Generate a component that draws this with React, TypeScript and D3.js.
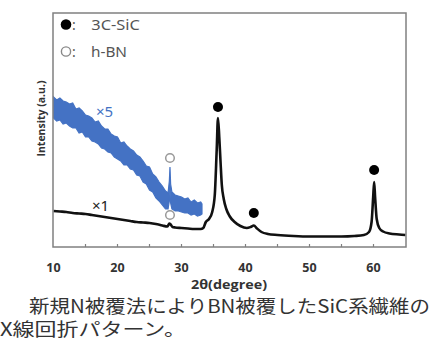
import React from 'react';
import * as d3 from 'd3';

// x1 pattern (black)
const blackTheta = [10, 11, 12, 13, 14, 15, 16, 17, 18, 19, 20, 21, 22, 23, 24, 25, 26, 27, 27.8, 28.1, 28.3, 28.6, 29, 30, 31, 32, 33, 33.4, 33.8, 34.3, 34.8, 35.2, 35.5, 35.7, 35.9, 36.1, 36.3, 36.6, 37, 37.5, 38.3, 39.2, 40.2, 40.8, 41.3, 41.8, 42.5, 43.5, 45, 47.5, 50, 52.5, 55, 57, 58.5, 59.3, 59.7, 59.95, 60.1, 60.25, 60.5, 60.9, 61.5, 62.5, 64, 65];
const blackIntensity = [36, 35.5, 35, 34, 33.5, 33, 32, 31, 30, 29, 28, 27, 26, 25, 24.5, 24, 23, 21.5, 20.5, 23.5, 22.5, 20, 19.5, 19, 18.5, 18, 18, 19, 25, 28, 35, 52, 97, 129, 110, 85, 62, 48, 38, 31, 25, 21, 19, 20, 21.5, 18.5, 15, 13, 12, 11, 10.5, 10.5, 10.5, 11, 12, 15, 25, 50, 65, 50, 28, 19, 15.5, 13.5, 12.5, 12];

// x5 pattern (blue, noisy band: upper / lower edges)
const blueTheta = [10, 10.5, 11, 11.5, 12, 12.5, 13, 13.5, 14, 14.5, 15, 15.5, 16, 16.5, 17, 17.5, 18, 18.5, 19, 19.5, 20, 20.5, 21, 21.5, 22, 22.5, 23, 23.5, 24, 24.5, 25, 25.5, 26, 26.5, 27, 27.5, 27.9, 28.1, 28.2, 28.3, 28.5, 29, 29.5, 30, 30.5, 31, 31.5, 32, 32.5, 33, 33.2];
const blueUpper = [150, 147, 149, 146, 145, 143, 144, 138, 139, 136, 132, 131, 129, 125, 126, 121, 118, 118, 113, 111, 110, 104, 105, 101, 98, 96, 92, 90, 86, 81, 80, 73, 70, 65, 61, 56, 54, 66, 80, 63, 55, 52, 51, 50, 48, 49, 45, 47, 44, 45, 43];
const blueLower = [129, 126, 127, 123, 124, 121, 119, 119, 114, 115, 110, 110, 106, 105, 103, 99, 98, 95, 94, 90, 88, 86, 82, 82, 78, 77, 72, 71, 65, 63, 57, 55, 49, 46, 42, 38, 38, 46, 58, 44, 38, 36, 36, 35, 34, 34, 32, 33, 31, 32, 33];

// peak markers
const sicTheta = [35.7, 41.3, 60.1];
const sicLevel = [140, 34, 77];
const bnTheta = [28.2, 28.2];
const bnLevel = [89, 32];

const xTicks = [10, 20, 30, 40, 50, 60];
const xMinorTicks = [15, 20, 25, 30, 35, 40, 45, 50, 55, 60];

const W = 437;
const H = 344;
const plot = { left: 53, top: 13, right: 406, bottom: 247 };

export default function App() {
  const x = d3.scaleLinear().domain([10, 65]).range([53.5, 405.5]);
  const y = d3.scaleLinear().domain([0, 234]).range([plot.bottom, plot.top]);

  const black = blackTheta.map((t, i) => [t, blackIntensity[i]] as [number, number]);
  const blue = blueTheta.map((t, i) => ({ t, hi: blueUpper[i], lo: blueLower[i] }));

  const line = d3
    .line<[number, number]>()
    .x((d) => x(d[0]))
    .y((d) => y(d[1]))
    .curve(d3.curveMonotoneX);

  const band = d3
    .area<{ t: number; hi: number; lo: number }>()
    .x((d) => x(d.t))
    .y0((d) => y(d.lo))
    .y1((d) => y(d.hi));

  const tickFont = '"Open Sans", "DejaVu Sans", sans-serif';
  const legendFont = '"Noto Sans", "Open Sans", sans-serif';
  const jpFont = '"Noto Sans CJK JP", sans-serif';

  return (
    <svg width={W} height={H} style={{ position: 'fixed', left: 0, top: 0, background: '#fff' }}>
      <rect x={0} y={0} width={W} height={H} fill="#fff" />

      {/* blue x5 band */}
      <path d={band(blue) || ''} fill="#4472c4" stroke="#4472c4" strokeWidth={1.2} />

      {/* black x1 line */}
      <path d={line(black) || ''} fill="none" stroke="#111" strokeWidth={2.6} strokeLinejoin="round" />

      {/* frame */}
      <rect
        x={plot.left}
        y={plot.top}
        width={plot.right - plot.left}
        height={plot.bottom - plot.top}
        fill="none"
        stroke="#808080"
        strokeWidth={1.5}
      />

      {/* inner ticks */}
      {xMinorTicks.map((t) => (
        <line key={t} x1={x(t)} x2={x(t)} y1={plot.bottom} y2={plot.bottom - 3} stroke="#808080" strokeWidth={1.2} />
      ))}

      {/* tick labels */}
      {xTicks.map((t) => (
        <text key={t} x={x(t)} y={272} textAnchor="middle" fontFamily={tickFont} fontWeight={700} fontSize={12.5} fill="#333">
          {t}
        </text>
      ))}

      <text x={191} y={289} fontFamily={tickFont} fontWeight={700} fontSize={11.5} fill="#333" textLength={76} lengthAdjust="spacingAndGlyphs">
        2θ(degree)
      </text>

      <text
        transform="translate(45,118.5) rotate(-90)"
        textAnchor="middle"
        fontFamily={tickFont}
        fontWeight={700}
        fontSize={10.5}
        fill="#333"
      >
        Intensity (a.u.)
      </text>

      {/* peak markers */}
      {sicTheta.map((t, i) => (
        <circle key={'s' + i} cx={x(t)} cy={y(sicLevel[i])} r={5} fill="#000" />
      ))}
      {bnTheta.map((t, i) => (
        <circle key={'b' + i} cx={x(t)} cy={y(bnLevel[i])} r={4.3} fill="#fff" stroke="#999" strokeWidth={1.5} />
      ))}

      <text x={96} y={117} fontFamily={legendFont} fontSize={15} fill="#4472c4">
        ×5
      </text>
      <text x={92} y={211} fontFamily={legendFont} fontSize={15} fill="#222">
        ×1
      </text>

      {/* legend */}
      <circle cx={66} cy={24.5} r={5.3} fill="#000" />
      <text y={30} fontFamily={legendFont} fontSize={14} fill="#555">
        <tspan x={72}>:</tspan>
        <tspan x={87} textLength={53} lengthAdjust="spacingAndGlyphs"> 3C-SiC</tspan>
      </text>
      <circle cx={66} cy={51.5} r={4.6} fill="#fff" stroke="#888" strokeWidth={1.4} />
      <text y={57} fontFamily={legendFont} fontSize={14} fill="#555">
        <tspan x={72}>:</tspan>
        <tspan x={87} textLength={40} lengthAdjust="spacingAndGlyphs"> h-BN</tspan>
      </text>

      {/* caption */}
      <text x={29} y={313} fontFamily={jpFont} fontSize={18} fill="#333" textLength={401} lengthAdjust="spacingAndGlyphs">
        新規N被覆法によりBN被覆したSiC系繊維の
      </text>
      <text x={0} y={336} fontFamily={jpFont} fontSize={18} fill="#333" textLength={186} lengthAdjust="spacingAndGlyphs">
        X線回折パターン。
      </text>
    </svg>
  );
}
